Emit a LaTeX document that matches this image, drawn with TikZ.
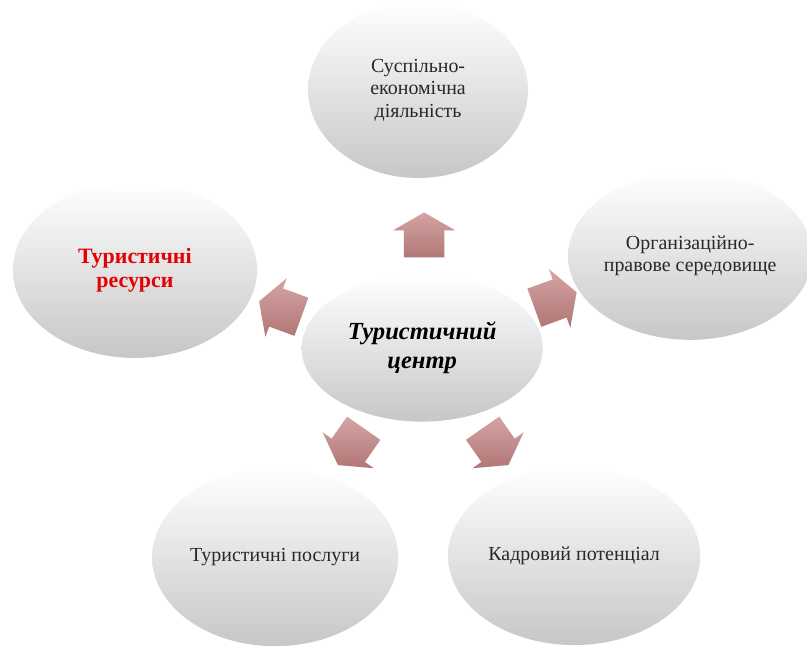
\documentclass[tikz,border=0pt]{standalone}
\usepackage{fontspec}
\setmainfont{Liberation Serif}
\usepackage{tikz}
\usetikzlibrary{shapes.geometric,shapes.arrows}
\pgfdeclarelayer{bg}
\pgfsetlayers{bg,main}
\definecolor{arrowtop}{RGB}{212,164,164}
\definecolor{arrowbot}{RGB}{178,118,118}
\definecolor{resred}{RGB}{228,0,0}
\definecolor{textgrey}{RGB}{40,40,40}
\tikzset{bubble/.style={ellipse, draw=none, top color=white, bottom color=black!22, inner sep=0mm, align=center, text=textgrey, font=\fontsize{15}{17}\selectfont}}
\tikzset{blockarrow/.style={single arrow, draw=none, top color=arrowtop, bottom color=arrowbot, minimum height=1.19cm, inner xsep=0mm, inner ysep=0.53cm, single arrow head extend=0.29cm, single arrow tip angle=120}}

\begin{document}
\begin{tikzpicture}
    \useasboundingbox (0cm, 0cm) rectangle (21.35cm, 17.09cm);

    \node (centre) at (11.17cm, 7.88cm) [bubble, minimum width=6.38cm, minimum height=3.89cm, font=\bfseries\itshape\fontsize{18.5}{22}\selectfont, text=black] {Туристичний\\центр};

    \node (activity) at (11.06cm, 14.71cm) [bubble, minimum width=5.82cm, minimum height=4.66cm] {Суспільно-\\економічна\\діяльність};
    \node (resources) at (3.57cm, 9.95cm) [bubble, minimum width=6.46cm, minimum height=4.66cm, font=\bfseries\fontsize{16.5}{18}\selectfont, text=resred] {Туристичні\\ресурси};
    \node (legal) at (18.26cm, 10.32cm) [bubble, minimum width=6.24cm, minimum height=4.44cm] {Організаційно-\\правове середовище};
    \node (services) at (7.28cm, 2.35cm) [bubble, minimum width=6.51cm, minimum height=4.71cm] {Туристичні послуги};
    \node (staff) at (15.19cm, 2.38cm) [bubble, minimum width=6.67cm, minimum height=4.71cm] {Кадровий потенціал};

    \begin{pgfonlayer}{bg}
        \node (a1) at (11.22cm, 10.72cm) [blockarrow, rotate=90] {};
        \node (a2) at (7.56cm, 8.86cm) [blockarrow, rotate=160] {};
        \node (a3) at (14.55cm, 9.10cm) [blockarrow, rotate=20] {};
        \node (a4) at (9.37cm, 5.40cm) [blockarrow, rotate=235] {};
        \node (a5) at (13.02cm, 5.40cm) [blockarrow, rotate=305] {};
    \end{pgfonlayer}
\end{tikzpicture}
\end{document}
